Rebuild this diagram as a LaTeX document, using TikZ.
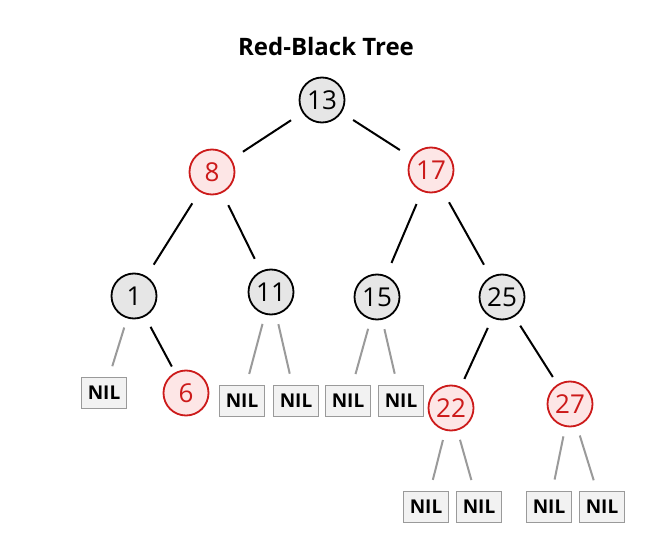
\documentclass[tikz,border=0pt]{standalone}
\usepackage{fontspec}
\setmainfont{Open Sans}
\definecolor{rbred}{HTML}{CC1A1A}
\definecolor{rbpink}{HTML}{FDE6E6}
\definecolor{rbgray}{HTML}{E6E6E6}
\definecolor{nilfill}{HTML}{F2F2F2}
\definecolor{nilline}{HTML}{9A9A9A}
\begin{document}
\begin{tikzpicture}[x=1pt,y=-1pt,
  blacknode/.style={circle,draw=black,fill=rbgray,line width=1.8pt,minimum size=45pt,inner sep=0pt,font=\fontsize{26}{26}\selectfont},
  rednode/.style={circle,draw=rbred,fill=rbpink,line width=1.8pt,minimum size=45pt,inner sep=0pt,text=rbred,font=\fontsize{26}{26}\selectfont},
  nilbox/.style={rectangle,draw=nilline,fill=nilfill,line width=1.8pt,minimum width=45pt,minimum height=31pt,inner sep=0pt,font=\bfseries\fontsize{19}{19}\selectfont},
  treeedge/.style={draw=black,line width=2pt,shorten <=37pt,shorten >=37pt},
  niledge/.style={draw=nilline,line width=2pt,shorten <=33pt,shorten >=28pt}]
\useasboundingbox (0,0) rectangle (666,537);
\node[font=\bfseries\fontsize{24}{24}\selectfont] (title) at (326,47) {Red-Black Tree};
\node[blacknode] (n13) at (322,100) {13};
\node[rednode] (n8) at (212,172) {8};
\node[rednode] (n17) at (431,170) {17};
\node[blacknode] (n1) at (134,296) {1};
\node[blacknode] (n11) at (271,292) {11};
\node[blacknode] (n15) at (377,297) {15};
\node[blacknode] (n25) at (502,297) {25};
\node[rednode] (n6) at (186,393) {6};
\node[rednode] (n22) at (451,408) {22};
\node[rednode] (n27) at (570,404) {27};
\node[nilbox] (a) at (104,393) {NIL};
\node[nilbox] (b) at (242,401) {NIL};
\node[nilbox] (c) at (296,401) {NIL};
\node[nilbox] (d) at (348,401) {NIL};
\node[nilbox] (e) at (401,401) {NIL};
\node[nilbox] (f) at (426,507) {NIL};
\node[nilbox] (g) at (479,507) {NIL};
\node[nilbox] (h) at (549,507) {NIL};
\node[nilbox] (i) at (602,507) {NIL};
\draw[treeedge] (n13.center) -- (n8.center);
\draw[treeedge] (n13.center) -- (n17.center);
\draw[treeedge] (n8.center) -- (n1.center);
\draw[treeedge] (n8.center) -- (n11.center);
\draw[treeedge] (n17.center) -- (n15.center);
\draw[treeedge] (n17.center) -- (n25.center);
\draw[treeedge,shorten >=30pt,shorten <=35pt] (n1.center) -- (n6.center);
\draw[treeedge,shorten >=32pt,shorten <=34pt] (n25.center) -- (n22.center);
\draw[treeedge,shorten >=32pt,shorten <=34pt] (n25.center) -- (n27.center);
\draw[niledge] (n1.center) -- (a.center);
\draw[niledge] (n11.center) -- (b.center);
\draw[niledge] (n11.center) -- (c.center);
\draw[niledge] (n15.center) -- (d.center);
\draw[niledge] (n15.center) -- (e.center);
\draw[niledge] (n22.center) -- (f.center);
\draw[niledge] (n22.center) -- (g.center);
\draw[niledge] (n27.center) -- (h.center);
\draw[niledge] (n27.center) -- (i.center);
\end{tikzpicture}
\end{document}
